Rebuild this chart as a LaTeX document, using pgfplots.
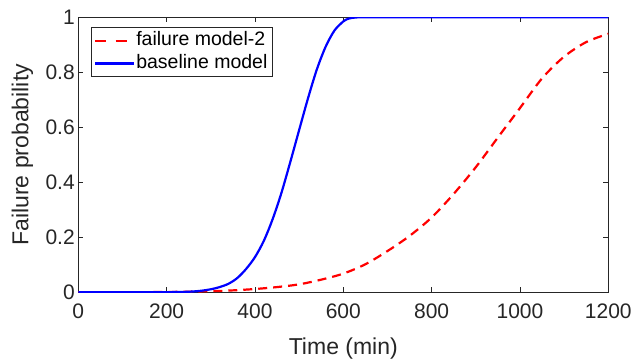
\documentclass[border=0pt]{standalone}
\usepackage{fontspec}
\setmainfont{Liberation Sans}
\usepackage{pgfplots}
\pgfplotsset{compat=1.18}
\definecolor{axgray}{RGB}{38,38,38}
\begin{document}
\begin{tikzpicture}
\useasboundingbox (-78.3pt,-67.7pt) rectangle (556.7pt,292.3pt);
\begin{axis}[
  at={(0,0)}, anchor=south west,
  scale only axis, width=530pt, height=275pt,
  xmin=0, xmax=1200, ymin=0, ymax=1,
  xtick={0,200,400,600,800,1000,1200},
  ytick={0,0.2,0.4,0.6,0.8,1},
  yticklabels={0,0.2,0.4,0.6,0.8,1},
  scaled ticks=false,
  /pgf/number format/1000 sep={},
  /pgf/number format/assume math mode=true,
  tick align=inside, major tick length=5pt,
  axis line style={axgray, line width=0.9pt},
  every tick/.style={axgray, line width=0.9pt},
  ticklabel style={font=\fontsize{21}{25}\selectfont, text=axgray},
  xticklabel style={yshift=-8pt},
  xlabel={Time (min)}, ylabel={Failure probability},
  label style={font=\fontsize{23}{27}\selectfont, text=axgray},
  xlabel style={at={([yshift=-62pt]axis description cs:0.5,0)}, anchor=base},
  ylabel style={at={([xshift=-50pt]axis description cs:0,0.5)}, anchor=base},
  legend style={at={([xshift=12.4pt,yshift=-10pt]axis description cs:0,1)}, anchor=north west,
    font=\fontsize{19.5}{23}\selectfont, text=black, draw=axgray, line width=0.8pt,
    inner xsep=3pt, inner ysep=2pt, row sep=0pt,
    nodes={inner sep=1.5pt, text height=14.5pt, text depth=5pt}},
  legend cell align=left,
  legend image code/.code={\draw[#1] (0pt,0pt) -- (38.5pt,0pt);},
]
\addplot[red, line width=2.2pt, dash pattern=on 9pt off 6pt, smooth,
  legend image post style={dash pattern=on 11pt off 9.5pt}] coordinates {
(0,0) (100,0.0002) (200,0.0012) (300,0.004) (350,0.007) (400,0.012) (450,0.019)
(500,0.029) (550,0.046) (600,0.068) (650,0.102) (700,0.15) (750,0.205) (800,0.272)
(850,0.358) (900,0.455) (950,0.563) (1000,0.67) (1050,0.778) (1100,0.857)
(1150,0.91) (1200,0.94)};
\addlegendentry{failure model-2}
\addplot[blue, line width=2.2pt, smooth] coordinates {
(0,0) (150,0) (200,0.0005) (240,0.0015) (260,0.003) (280,0.006) (300,0.011)
(320,0.019) (340,0.031) (360,0.052) (380,0.085) (400,0.128) (420,0.187)
(440,0.266) (460,0.362) (480,0.474) (500,0.59) (520,0.705) (540,0.81)
(560,0.893) (580,0.952) (600,0.985) (610,0.994) (620,0.998) (630,0.9995)
(650,1) (800,1) (1200,1)};
\addlegendentry{baseline model}
\end{axis}
\end{tikzpicture}
\end{document}
